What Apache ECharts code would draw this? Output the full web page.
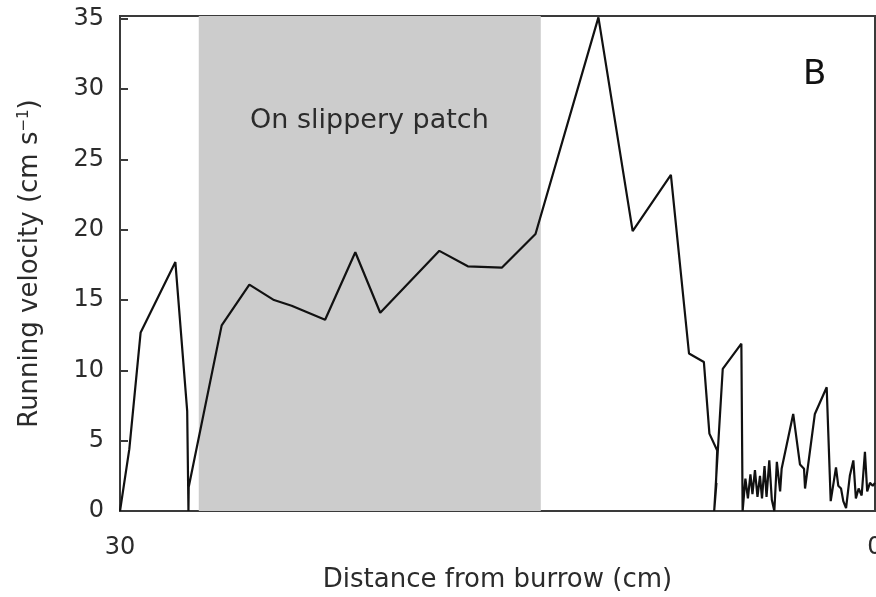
<!DOCTYPE html>
<html>
<head>
<meta charset="utf-8">
<script src="https://cdn.jsdelivr.net/npm/echarts@6/dist/echarts.min.js"></script>
<style>html,body{margin:0;padding:0;background:#fff;overflow:hidden;}#c{width:876px;height:597px;}</style>
</head>
<body>
<div id="c"></div>
<script>
const distance = [30.00,29.63,29.18,27.80,27.33,27.28,27.27,25.96,24.86,23.88,23.18,21.85,20.65,19.66,17.31,16.18,14.83,13.49,10.99,9.63,8.11,7.39,6.80,6.58,6.27,6.32,6.35,6.30,6.39,6.05,5.31,5.26,
  5.15,5.05,4.95,4.87,4.77,4.67,4.57,4.49,4.39,4.31,4.20,4.10,4.00,3.90,3.77,3.71,3.25,2.98,2.82,2.78,2.39,1.92,1.76,1.55,1.46,1.35,1.26,1.15,1.00,0.86,0.76,0.65,0.53,0.40,0.31,0.20,0.09,0.00];
const velocity = [0,4.4,12.7,17.7,7.1,0,1.7,13.2,16.1,15.0,14.6,13.6,18.4,14.1,18.5,17.4,17.3,19.7,35.1,19.9,23.9,11.2,10.6,5.5,4.3,1.9,0.9,2.0,0,10.1,11.9,0,
  2.3,0.9,2.6,1.2,2.9,1.0,2.5,0.9,3.2,1.0,3.6,0.8,0,3.5,1.4,3.0,6.9,3.3,3.0,1.6,6.9,8.8,0.7,3.1,1.8,1.6,0.7,0.2,2.5,3.6,0.9,1.6,1.1,4.2,1.4,2.0,1.8,2.0];
const patchRange = [26.87, 13.28];
const xTicks = [30, 0];
const yTicks = [0, 5, 10, 15, 20, 25, 30, 35];
const patchLabel = 'On slippery patch';
const panelLabel = 'B';

const FONT = '"DejaVu Sans", "Noto Sans", sans-serif';
const TXT = '#2b2b2b';
const AX = '#3a3a3a';

const chart = echarts.init(document.getElementById('c'), null, {renderer: 'canvas'});
chart.setOption({
  animation: false,
  backgroundColor: '#fff',
  grid: {left: 120, right: 1, top: 16, bottom: 86, show: true, borderColor: AX, borderWidth: 2,
    backgroundColor: 'transparent', containLabel: false, outerBoundsMode: 'none'},
  xAxis: {
    type: 'value', min: 0, max: 30, interval: 30, inverse: true,
    axisLine: {show: true, onZero: false, lineStyle: {color: AX, width: 2}},
    axisTick: {show: false},
    splitLine: {show: false},
    axisLabel: {fontSize: 24, fontFamily: FONT, color: TXT, margin: 25,
      formatter: v => xTicks.includes(v) ? String(v) : ''},
    name: 'Distance from burrow (cm)', nameLocation: 'middle', nameGap: 56,
    nameTextStyle: {fontSize: 26, fontFamily: FONT, color: TXT}
  },
  yAxis: {
    type: 'value', min: 0, max: 35.2, interval: 5,
    axisLine: {show: true, onZero: false, lineStyle: {color: AX, width: 2}},
    axisTick: {show: true, inside: true, length: 8, lineStyle: {color: AX, width: 2}},
    splitLine: {show: false},
    axisLabel: {fontSize: 24, fontFamily: FONT, color: TXT, margin: 16, showMaxLabel: true,
      formatter: v => yTicks.includes(v) ? String(v) : ''},
    name: '{a|Running velocity (cm s}{s|−1}{a|)}', nameLocation: 'middle', nameGap: 76, nameRotate: 90,
    nameTextStyle: {fontSize: 26, fontFamily: FONT, color: TXT,
      rich: {a: {fontSize: 26, fontFamily: FONT, color: TXT},
             s: {fontSize: 15, fontFamily: FONT, color: TXT, padding: [0, 0, 12, 0]}}}
  },
  series: [
    {
      type: 'line', z: 1, data: [], silent: true,
      markArea: {silent: true, itemStyle: {color: '#cccccc', opacity: 1},
        data: [[{xAxis: patchRange[0]}, {xAxis: patchRange[1]}]]}
    },
    {
      type: 'line', z: 5,
      data: distance.map((d, i) => [d, velocity[i]]),
      showSymbol: false, symbol: 'none',
      lineStyle: {color: '#111', width: 2.2},
      clip: false
    }
  ],
  graphic: [
    {type: 'text', left: 250, top: 107, z: 10,
      style: {text: patchLabel, font: '27px ' + FONT, fill: TXT}},
    {type: 'text', left: 803, top: 58, z: 10,
      style: {text: panelLabel, font: '34px ' + FONT, fill: '#111'}}
  ]
});
</script>
</body>
</html>
